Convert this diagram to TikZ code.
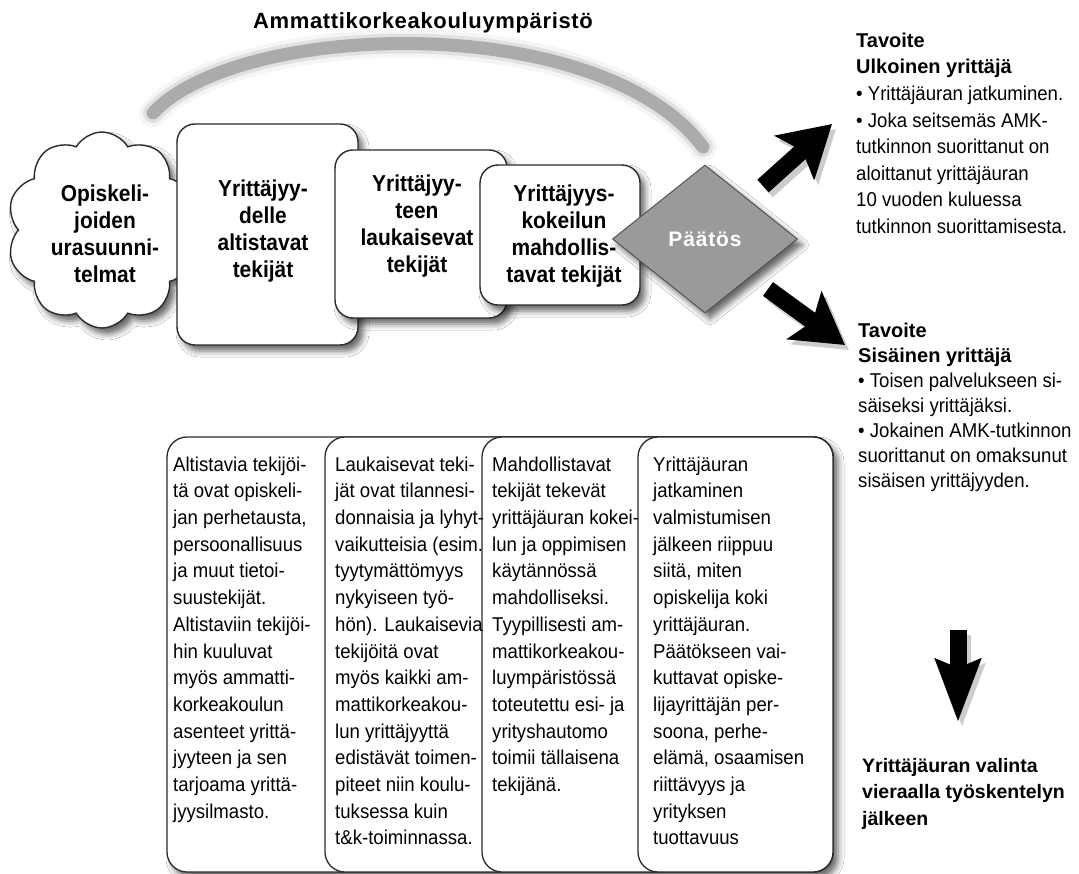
\documentclass[tikz,border=0pt]{standalone}
\usepackage{fontspec}
\setmainfont{Liberation Sans}
\newfontfamily\condfont[FakeStretch=0.93,BoldFeatures={FakeStretch=0.91}]{Liberation Sans}
\usetikzlibrary{shapes.geometric,shapes.symbols,shadows.blur,arrows.meta}
\definecolor{edge}{HTML}{2B2B2B}
\definecolor{arcgray}{HTML}{ABABAB}
\definecolor{diamondgray}{HTML}{9A9A9A}
\tikzset{
  myshadow/.style={blur shadow={shadow xshift=5pt,shadow yshift=-6pt,shadow blur radius=6pt,shadow opacity=60}},
  topbox/.style={draw=edge,line width=1.4pt,fill=white,rounded corners=18pt,inner sep=0pt,myshadow},
  boxtext/.style={anchor=north,align=center,inner sep=0pt,font=\condfont\bfseries\fontsize{23}{27}\selectfont},
  panel/.style={draw=edge,line width=1.3pt,fill=white,rounded corners=20pt,inner sep=0pt},
  paneltext/.style={anchor=north west,align=left,inner sep=0pt,font=\condfont\fontsize{20}{26.7}\selectfont},
  goalA/.style={anchor=north west,align=left,inner sep=0pt,font=\condfont\fontsize{20}{26.6}\selectfont},
  goalB/.style={anchor=north west,align=left,inner sep=0pt,font=\condfont\fontsize{20}{25}\selectfont},
  goalC/.style={anchor=north west,align=left,inner sep=0pt,font=\bfseries\fontsize{19.5}{26.5}\selectfont},
  diagarrow/.style={line width=17pt,-{Stealth[length=50pt,width=58pt,inset=10pt]},black},
  diagshade/.style={diagarrow,opacity=0.2,transform canvas={xshift=4pt,yshift=-5pt}},
  downarrow/.style={line width=17pt,-{Stealth[length=62pt,width=44pt,inset=8pt]},black},
  downshade/.style={downarrow,opacity=0.2,transform canvas={xshift=4pt,yshift=-5pt}},
  arcglow/.style={line width=28pt,black,opacity=0.04,line cap=round},
  arcmid/.style={line width=20pt,black,opacity=0.08,line cap=round},
  arccore/.style={line width=13pt,arcgray,line cap=round},
}
\begin{document}
\begin{tikzpicture}[x=1pt,y=-1pt]
\useasboundingbox[fill=white] (0,0) rectangle (1079,874);

% environment arc
\coordinate (arcL) at (153,113);
\coordinate (arcR) at (703,147);
\draw[arcglow] (arcL) .. controls (240,20) and (600,10) .. (arcR);
\draw[arcmid] (arcL) .. controls (240,20) and (600,10) .. (arcR);
\draw[arccore] (arcL) .. controls (240,20) and (600,10) .. (arcR);
\node[anchor=base,inner sep=0pt,font=\bfseries\fontsize{22}{26}\selectfont\addfontfeature{LetterSpace=3}] (title) at (423,29) {Ammattikorkeakouluympäristö};

% top row
\node[cloud,cloud puffs=10,cloud puff arc=120,cloud ignores aspect,minimum width=190pt,minimum height=196pt,draw=edge,line width=1.4pt,fill=white,myshadow] (cloud) at (102,230) {};
\node[topbox,minimum width=181pt,minimum height=221pt] (box1) at (267.5,234.5) {};
\node[topbox,minimum width=172pt,minimum height=168pt] (box2) at (421,234) {};
\node[topbox,minimum width=160pt,minimum height=140pt] (box3) at (560,235) {};
\node[diamond,draw=edge!80,line width=1pt,fill=diamondgray,minimum width=185pt,minimum height=148pt,inner sep=0pt,myshadow,text=white,font=\bfseries\fontsize{21}{25}\selectfont\addfontfeature{LetterSpace=4}] (decision) at (705,239) {\raisebox{-3pt}{Päätös}};

\node[boxtext] (cloudtext) at (105,182) {\strut Opiskeli-\\joiden\\urasuunni-\\telmat};
\node[boxtext] (box1text) at (263,177) {\strut Yrittäjyy-\\delle\\altistavat\\tekijät};
\node[boxtext] (box2text) at (417,172) {\strut Yrittäjyy-\\teen\\laukaisevat\\tekijät};
\node[boxtext] (box3text) at (564,182) {\strut Yrittäjyys-\\kokeilun\\mahdollis-\\tavat tekijät};

% arrows
\coordinate (ur0) at (763,186);
\coordinate (ur1) at (832,124);
\coordinate (dr0) at (768,289);
\coordinate (dr1) at (845,345);
\coordinate (dn0) at (958,630);
\coordinate (dn1) at (958,722);
\draw[diagshade] (ur0) -- (ur1);
\draw[diagshade] (dr0) -- (dr1);
\draw[downshade] (dn0) -- (dn1);
\draw[diagarrow] (ur0) -- (ur1);
\draw[diagarrow] (dr0) -- (dr1);
\draw[downarrow] (dn0) -- (dn1);

% goal texts
\node[goalA] (goalout) at (856,28.4) {\strut{\rmfamily\bfseries Tavoite}\\{\rmfamily\bfseries Ulkoinen yrittäjä}\\• Yrittäjäuran jatkuminen.\\• Joka seitsemäs AMK-\\tutkinnon suorittanut on\\aloittanut yrittäjäuran\\10 vuoden kuluessa\\tutkinnon suorittamisesta.};
\node[goalB] (goalin) at (858,319.5) {\strut{\rmfamily\bfseries Tavoite}\\{\rmfamily\bfseries Sisäinen yrittäjä}\\• Toisen palvelukseen si-\\säiseksi yrittäjäksi.\\• Jokainen AMK-tutkinnon\\suorittanut on omaksunut\\sisäisen yrittäjyyden.};
\node[goalC] (later) at (862,753.5) {\strut Yrittäjäuran valinta\\vieraalla työskentelyn\\jälkeen};

% bottom panels
\node[panel,myshadow,minimum width=666pt,minimum height=435pt] (panelA) at (500,654.5) {};
\node[panel,minimum width=508pt,minimum height=435pt] (panelB) at (579,654.5) {};
\node[panel,minimum width=351pt,minimum height=435pt] (panelC) at (657.5,654.5) {};
\node[panel,minimum width=195pt,minimum height=435pt] (panelD) at (735.5,654.5) {};

\node[paneltext] (textA) at (173,452.3) {\strut Altistavia tekijöi-\\tä ovat opiskeli-\\jan perhetausta,\\persoonallisuus\\ja muut tietoi-\\suustekijät.\\Altistaviin tekijöi-\\hin kuuluvat\\myös ammatti-\\korkeakoulun\\asenteet yrittä-\\jyyteen ja sen\\tarjoama yrittä-\\jyysilmasto.};
\node[paneltext] (textB) at (335,452.3) {\strut Laukaisevat teki-\\jät ovat tilannesi-\\donnaisia ja lyhyt-\\vaikutteisia (esim.\\tyytymättömyys\\nykyiseen työ-\\hön). Laukaisevia\\tekijöitä ovat\\myös kaikki am-\\mattikorkeakou-\\lun yrittäjyyttä\\edistävät toimen-\\piteet niin koulu-\\tuksessa kuin\\t\&k-toiminnassa.};
\node[paneltext] (textC) at (492,452.3) {\strut Mahdollistavat\\tekijät tekevät\\yrittäjäuran kokei-\\lun ja oppimisen\\käytännössä\\mahdolliseksi.\\Tyypillisesti am-\\mattikorkeakou-\\luympäristössä\\toteutettu esi- ja\\yrityshautomo\\toimii tällaisena\\tekijänä.};
\node[paneltext] (textD) at (653,452.3) {\strut Yrittäjäuran\\jatkaminen\\valmistumisen\\jälkeen riippuu\\siitä, miten\\opiskelija koki\\yrittäjäuran.\\Päätökseen vai-\\kuttavat opiske-\\lijayrittäjän per-\\soona, perhe-\\elämä, osaamisen\\riittävyys ja\\yrityksen\\tuottavuus};
\end{tikzpicture}
\end{document}
